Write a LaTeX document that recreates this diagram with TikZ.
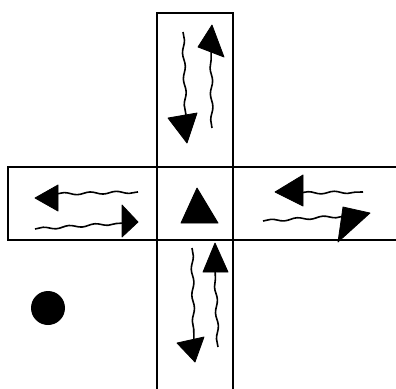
\documentclass[tikz,border=0pt]{standalone}
\usetikzlibrary{decorations.pathmorphing}
\begin{document}
\begin{tikzpicture}[x=1pt,y=-1pt,
  frame/.style={draw=black,line width=2.2pt},
  wavy/.style={draw=black,line width=1.6pt,decorate,decoration={snake,amplitude=1.2pt,segment length=26pt}},
  head/.style={fill=black,draw=black,line width=0.8pt,line join=round}]
\useasboundingbox (0,0) rectangle (396,388);
% vertical strip
\draw[frame] (157,394) -- (157,13) -- (233,13) -- (233,394);
% horizontal strip
\draw[frame] (402,167) -- (8,167) -- (8,240) -- (402,240);
\draw[frame] (157,167) -- (157,240);
\draw[frame] (233,167) -- (233,240);
% top arm
\draw[wavy] (183,32) -- (186,122);
\fill[head] (168,118) -- (197,113) -- (187,143) -- cycle;
\draw[wavy] (212,128) -- (211,48);
\fill[head] (212,25) -- (198,47) -- (224,57) -- cycle;
% left arm
\draw[wavy] (56,194) -- (138,192);
\fill[head] (35,198) -- (58,185) -- (58,211) -- cycle;
\draw[wavy] (35,229) -- (124,223);
\fill[head] (138,222) -- (122,205) -- (122,237) -- cycle;
% centre
\fill[head] (197,188) -- (181,223) -- (218,223) -- cycle;
% right arm
\draw[wavy] (300,193) -- (363,192);
\fill[head] (275,192) -- (303,175) -- (303,206) -- cycle;
\draw[wavy] (263,221) -- (345,216);
\fill[head] (370,213) -- (343,207) -- (338,242) -- cycle;
% bottom arm
\draw[wavy] (192,248) -- (194,342);
\fill[head] (177,343) -- (204,337) -- (195,362) -- cycle;
\draw[wavy] (218,347) -- (215,268);
\fill[head] (215,243) -- (203,272) -- (228,272) -- cycle;
% dot
\fill (48,308) circle (17);
\end{tikzpicture}
\end{document}
